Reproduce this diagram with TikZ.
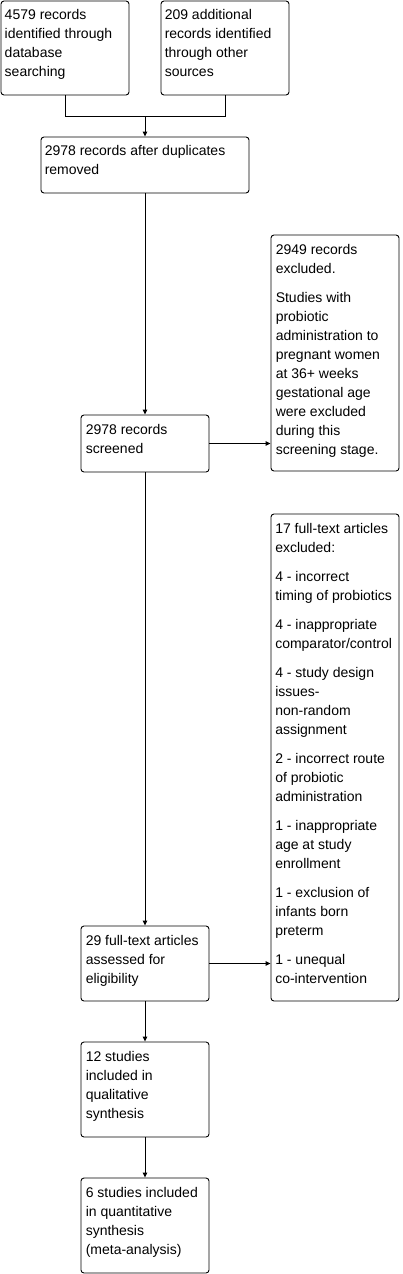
\documentclass[tikz,border=0pt]{standalone}
\usepackage{fontspec}
\setmainfont{Liberation Sans}
\usetikzlibrary{arrows.meta,calc}
\begin{document}
\begin{tikzpicture}[x=1pt,y=-1pt,
  box/.style={draw=black,line width=0.9pt,rounded corners=3pt,inner sep=0pt,minimum width=128pt},
  txt/.style={anchor=north west,inner sep=0pt,align=left,font=\fontsize{14}{19}\selectfont},
  conn/.style={line width=0.9pt},
  arr/.style={conn,-{Triangle[length=5pt,width=4.5pt]}}]
\useasboundingbox[fill=white] (0,0) rectangle (402,1274);
% boxes
\node[box,minimum height=94pt] (A) at (65,48) {};
\node[box,minimum height=94pt] (B) at (225,48) {};
\node[box,minimum width=208pt,minimum height=56pt] (C) at (145,165) {};
\node[box,minimum height=57pt] (D) at (145,443.5) {};
\node[box,minimum height=236pt] (E) at (335,353) {};
\node[box,minimum height=75pt] (F) at (145,963.5) {};
\node[box,minimum height=487pt] (G) at (335,757.5) {};
\node[box,minimum height=95pt] (H) at (145,1089.5) {};
\node[box,minimum height=95pt] (I) at (145,1225.5) {};
% texts
\node[txt] (tA) at ($(A.north west)+(4,8.5)$) {4579 records\\identified through\\database\\searching};
\node[txt] (tB) at ($(B.north west)+(4,8.5)$) {209 additional\\records identified\\through other\\sources};
\node[txt] (tC) at ($(C.north west)+(4,9)$) {2978 records after duplicates\\removed};
\node[txt] (tD) at ($(D.north west)+(5,9.3)$) {2978 records\\screened};
\node[txt] (tE) at ($(E.north west)+(5,9.3)$) {2949 records\\excluded.\\[10pt]Studies with\\probiotic\\administration to\\pregnant women\\at 36+ weeks\\gestational age\\were excluded\\during this\\screening stage.};
\node[txt] (tF) at ($(F.north west)+(5,9.3)$) {29 full-text articles\\assessed for\\eligibility};
\node[txt] (tG) at ($(G.north west)+(4.5,9.3)$) {17 full-text articles\\excluded:\\[10pt]4 - incorrect\\timing of probiotics\\[10pt]4 - inappropriate\\comparator/control\\[10pt]4 - study design\\issues-\\non-random\\assignment\\[10pt]2 - incorrect route\\of probiotic\\administration\\[10pt]1 - inappropriate\\age at study\\enrollment\\[10pt]1 - exclusion of\\infants born\\preterm\\[10pt]1 - unequal\\co-intervention};
\node[txt] (tH) at ($(H.north west)+(5,9.3)$) {12 studies\\included in\\qualitative\\synthesis};
\node[txt] (tI) at ($(I.north west)+(5,9.3)$) {6 studies included\\in quantitative\\synthesis\\(meta-analysis)};
% connectors
\coordinate (m) at (145,116);
\draw[conn] (A.south) |- (m);
\draw[conn] (B.south) |- (m);
\draw[arr] (m) -- (C.north);
\draw[arr] (C.south) -- (D.north);
\draw[arr] (D.east) -- (D.east -| E.west);
\draw[arr] (D.south) -- (F.north);
\draw[arr] (F.east) -- (F.east -| G.west);
\draw[arr] (F.south) -- (H.north);
\draw[arr] (H.south) -- (I.north);
\end{tikzpicture}
\end{document}
